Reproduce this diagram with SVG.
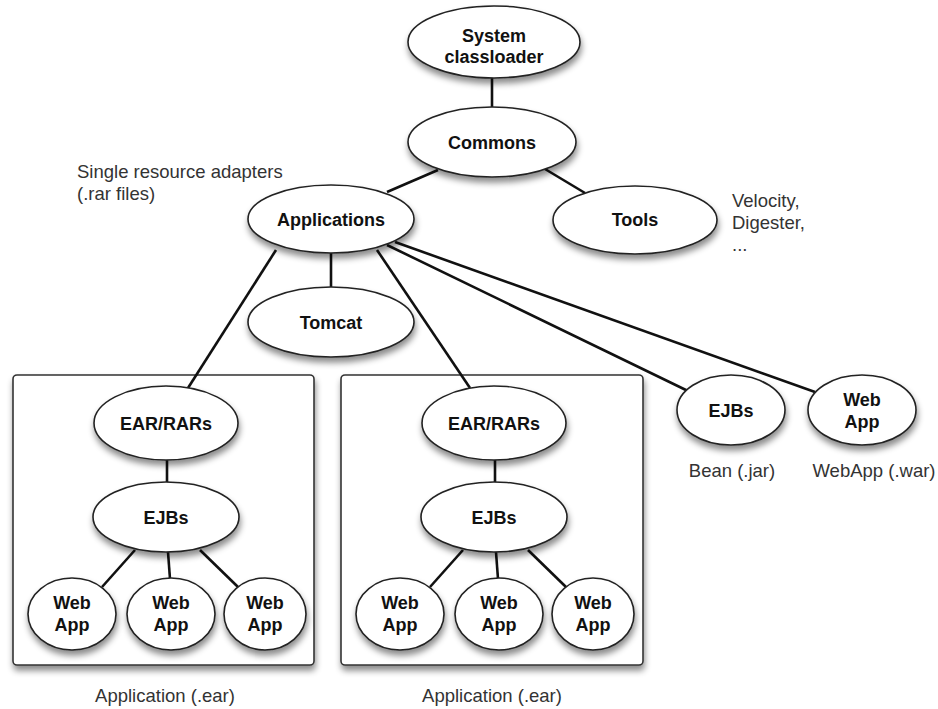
<svg xmlns="http://www.w3.org/2000/svg" width="938" height="709" viewBox="0 0 938 709">
<defs>
<filter id="sh" x="-20%" y="-20%" width="140%" height="150%">
<feDropShadow dx="1" dy="5" stdDeviation="3" flood-color="#000" flood-opacity="0.45"/>
</filter>
<style>
.n{fill:#fff;stroke:#222;stroke-width:1.6;filter:url(#sh)}
.box{fill:#fff;stroke:#333;stroke-width:1.6;filter:url(#sh)}
.t{font-family:"Liberation Sans",Arial,sans-serif;font-weight:bold;font-size:18px;fill:#111;text-anchor:middle}
.l{font-family:"Liberation Sans",Arial,sans-serif;font-size:18.5px;fill:#333}
.c line{stroke:#111;stroke-width:2.6}
</style>
</defs>
<rect x="0" y="0" width="938" height="709" fill="#fff"/>
<g id="box1"><rect class="box" x="13" y="375" width="301" height="290" rx="4"/></g>
<g id="box2"><rect class="box" x="341" y="375" width="302" height="290" rx="4"/></g>
<g id="connectors" class="c">
<line x1="492" y1="77" x2="492" y2="108"/>
<line x1="438" y1="170" x2="387" y2="192"/>
<line x1="545" y1="169" x2="585" y2="193"/>
<line x1="331" y1="253" x2="331" y2="288"/>
<line x1="276" y1="250" x2="188" y2="388"/>
<line x1="377" y1="250" x2="470" y2="388"/>
<line x1="387" y1="245" x2="688" y2="391"/>
<line x1="395" y1="242" x2="815" y2="392"/>
<line x1="167" y1="460" x2="167" y2="483"/>
<line x1="135" y1="550" x2="102" y2="587"/>
<line x1="168" y1="552" x2="170" y2="579"/>
<line x1="200" y1="550" x2="238" y2="587"/>
<line x1="495" y1="460" x2="495" y2="483"/>
<line x1="463" y1="550" x2="430" y2="587"/>
<line x1="496" y1="552" x2="498" y2="579"/>
<line x1="528" y1="550" x2="566" y2="587"/>
</g>
<g id="system"><ellipse class="n" cx="494" cy="42" rx="86" ry="36"/><text class="t" x="494" y="42">System</text><text class="t" x="494" y="63">classloader</text></g>
<g id="commons"><ellipse class="n" cx="492" cy="142" rx="84" ry="35"/><text class="t" x="492" y="149">Commons</text></g>
<g id="applications"><ellipse class="n" cx="331" cy="219" rx="83" ry="34"/><text class="t" x="331" y="226">Applications</text></g>
<g id="tools"><ellipse class="n" cx="635" cy="220" rx="82" ry="34"/><text class="t" x="635" y="226">Tools</text></g>
<g id="tomcat"><ellipse class="n" cx="331" cy="322" rx="83" ry="35"/><text class="t" x="331" y="329">Tomcat</text></g>
<g id="ejbs-bean"><ellipse class="n" cx="731" cy="410" rx="54" ry="35"/><text class="t" x="731" y="417">EJBs</text></g>
<g id="webapp-war"><ellipse class="n" cx="862" cy="410" rx="54" ry="35"/><text class="t" x="862" y="406">Web</text><text class="t" x="862" y="428">App</text></g>
<g id="ear1"><ellipse class="n" cx="166" cy="423" rx="72" ry="37"/><text class="t" x="166" y="430">EAR/RARs</text></g>
<g id="ejbs1"><ellipse class="n" cx="166" cy="517" rx="73" ry="35"/><text class="t" x="166" y="524">EJBs</text></g>
<g id="wa1a"><ellipse class="n" cx="72" cy="614" rx="44" ry="36"/><text class="t" x="72" y="609">Web</text><text class="t" x="72" y="631">App</text></g>
<g id="wa1b"><ellipse class="n" cx="171" cy="614" rx="44" ry="36"/><text class="t" x="171" y="609">Web</text><text class="t" x="171" y="631">App</text></g>
<g id="wa1c"><ellipse class="n" cx="265" cy="614" rx="41" ry="36"/><text class="t" x="265" y="609">Web</text><text class="t" x="265" y="631">App</text></g>
<g id="ear2"><ellipse class="n" cx="494" cy="423" rx="72" ry="37"/><text class="t" x="494" y="430">EAR/RARs</text></g>
<g id="ejbs2"><ellipse class="n" cx="494" cy="517" rx="73" ry="35"/><text class="t" x="494" y="524">EJBs</text></g>
<g id="wa2a"><ellipse class="n" cx="400" cy="614" rx="44" ry="36"/><text class="t" x="400" y="609">Web</text><text class="t" x="400" y="631">App</text></g>
<g id="wa2b"><ellipse class="n" cx="499" cy="614" rx="44" ry="36"/><text class="t" x="499" y="609">Web</text><text class="t" x="499" y="631">App</text></g>
<g id="wa2c"><ellipse class="n" cx="593" cy="614" rx="41" ry="36"/><text class="t" x="593" y="609">Web</text><text class="t" x="593" y="631">App</text></g>
<g id="labels">
<text class="l" x="77" y="178">Single resource adapters</text>
<text class="l" x="77" y="200">(.rar files)</text>
<text class="l" x="732" y="207">Velocity,</text>
<text class="l" x="732" y="229">Digester,</text>
<text class="l" x="732" y="251">...</text>
<text class="l" x="732" y="477" text-anchor="middle">Bean (.jar)</text>
<text class="l" x="874" y="477" text-anchor="middle">WebApp (.war)</text>
<text class="l" x="165" y="702" text-anchor="middle">Application (.ear)</text>
<text class="l" x="492" y="702" text-anchor="middle">Application (.ear)</text>
</g>
</svg>
